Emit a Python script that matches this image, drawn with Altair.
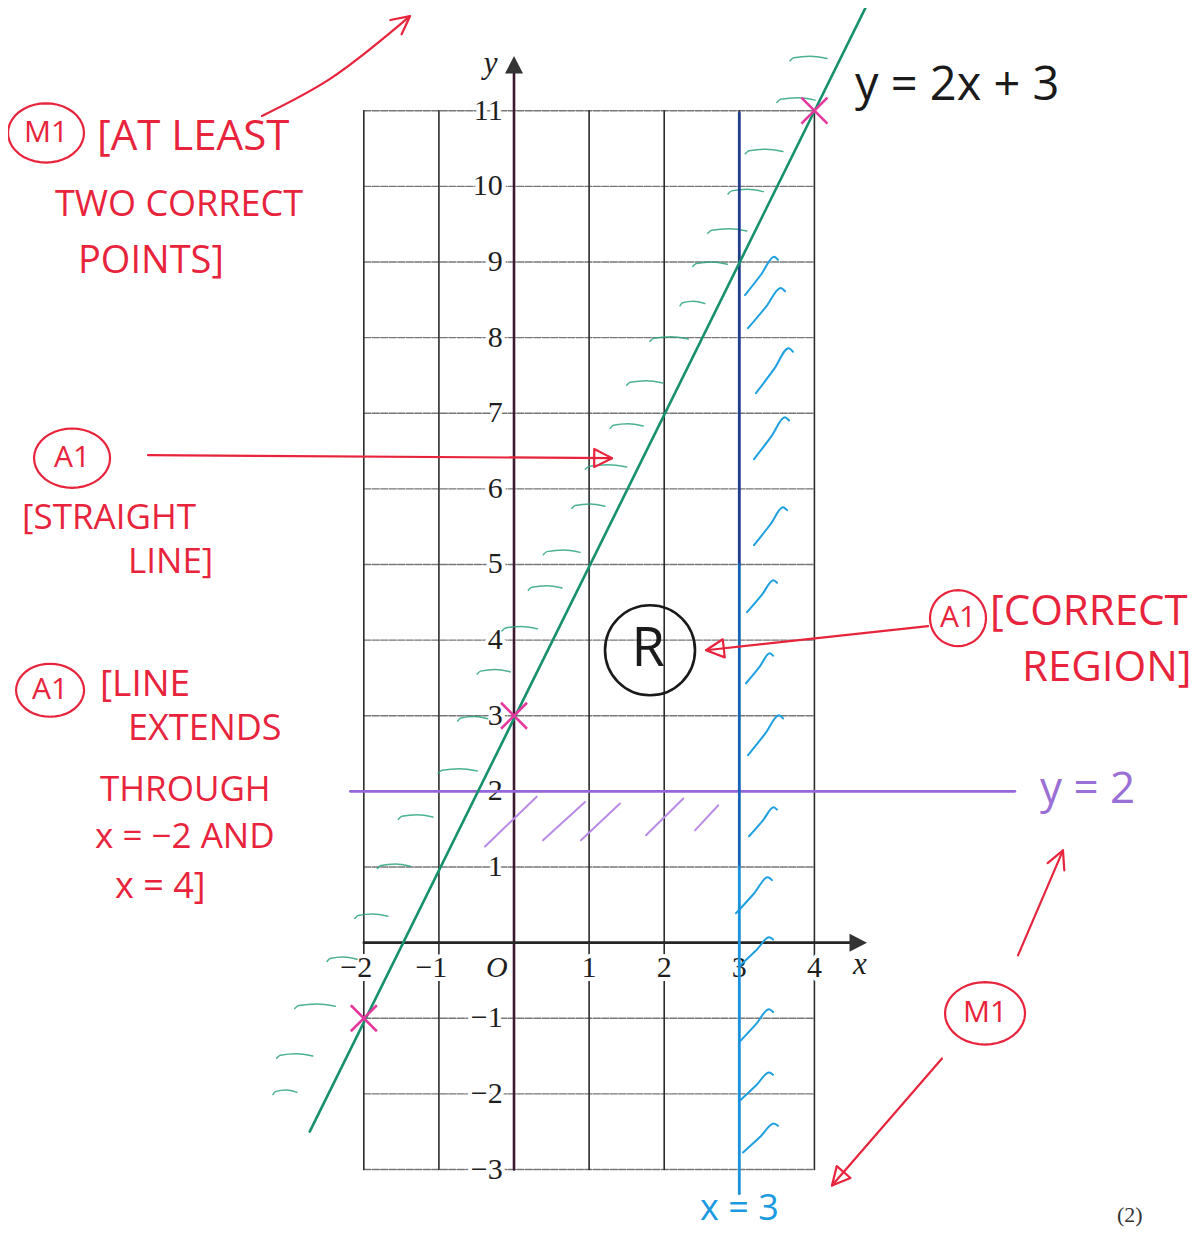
import math
import altair as alt
import numpy as np
import pandas as pd

# ---------------- data (graph units) ----------------
X_DOMAIN = [-6.738, 9.028]
Y_DOMAIN = [-3.813, 12.358]
PX_X = 75.1   # pixels per x unit (used only for arrow-head geometry)
PX_Y = 75.6

grid_x = [-2, -1, 0, 1, 2, 3, 4]
grid_y = [-3, -2, -1, 0, 1, 2, 3, 4, 5, 6, 7, 8, 9, 10, 11]
x_tick_values = [-2, -1, 1, 2, 3, 4]
y_tick_values = [11, 10, 9, 8, 7, 6, 5, 4, 3, 2, 1, -1, -2, -3]

# y = 2x + 3 as drawn
line_x = [-2.72, 4.69]
line_y = [-2.50, 12.38]
# plotted points (crosses)
cross_x = [-2, 0, 4]
cross_y = [-1, 3, 11]
# boundary x = 3
vline_y = [10.97, 5.0, 1.0, -3.32]
vline_colors = ["#1f3d8c", "#1565b8", "#1a92dc"]
# boundary y = 2
hline_x = [-2.18, 6.67]

# green shading strokes (left of y = 2x + 3)
gh_x0 = [3.675, 3.50, 3.08, 2.85, 2.58, 2.38, 2.21, 1.81, 1.50, 1.28, 0.95, 0.77, 0.39,
         0.19, -0.16, -0.49, -0.75, -1.01, -1.54, -1.82, -2.12, -2.49, -2.92, -3.16, -3.21]
gh_x1 = [4.168, 4.01, 3.58, 3.32, 3.10, 2.84, 2.54, 2.32, 1.98, 1.72, 1.50, 1.21, 0.88,
         0.64, 0.31, -0.05, -0.35, -0.49, -1.08, -1.38, -1.68, -2.09, -2.38, -2.68, -2.89]
gh_y = [11.70, 11.15, 10.47, 9.94, 9.42, 8.98, 8.46, 7.99, 7.41, 6.84, 6.30, 5.78, 5.17,
        4.70, 4.16, 3.59, 2.97, 2.28, 1.67, 1.02, 0.36, -0.21, -0.83, -1.49, -1.97]

# blue shading strokes (right of x = 3)
bh_x0 = [3.076, 3.116, 3.222, 3.196, 3.196, 3.103, 3.089, 3.116, 3.129, 2.956, 3.009, 2.996, 3.009, 3.049]
bh_y0 = [8.562, 8.125, 7.265, 6.393, 5.255, 4.369, 3.429, 2.478, 1.406, 0.388, -0.302, -1.319, -2.086, -2.774]
bh_x1 = [3.515, 3.609, 3.715, 3.662, 3.635, 3.502, 3.449, 3.582, 3.502, 3.435, 3.449, 3.449, 3.449, 3.515]
bh_y1 = [9.069, 8.655, 7.860, 6.948, 5.758, 4.792, 3.826, 3.007, 1.790, 0.864, 0.070, -0.882, -1.716, -2.391]

# purple shading strokes (below y = 2)
ph_x0 = [-0.386, 0.386, 0.892, 1.758, 2.41]
ph_y0 = [1.27, 1.353, 1.353, 1.419, 1.485]
ph_x1 = [0.302, 0.945, 1.411, 2.254, 2.72]
ph_y1 = [1.93, 1.86, 1.839, 1.905, 1.816]

# red arrows (polylines, last point = tip)
arrow_top_x = [-3.356, -2.45, -1.385]
arrow_top_y = [10.93, 11.42, 12.25]
arrow_mid_x = [-4.873, 1.305]
arrow_mid_y = [6.446, 6.406]
arrow_region_x = [5.513, 2.557]
arrow_region_y = [4.184, 3.866]
arrow_up_x = [6.711, 7.310]
arrow_up_y = [-0.168, 1.220]
arrow_down_x = [5.699, 4.234]
arrow_down_y = [-1.532, -3.212]

# red mark labels in circles
mark_text = ["M1", "A1", "A1", "A1", "M1"]
mark_x = [-6.232, -5.885, -6.178, 5.912, 6.272]
mark_y = [10.706, 6.406, 3.337, 4.290, -0.935]
mark_w = [76, 76, 68, 56, 80]

# red comments
note_text = ["[AT LEAST", "TWO CORRECT", "POINTS]", "[STRAIGHT", "LINE]", "[LINE", "EXTENDS",
             "THROUGH", "x = −2  AND", "x = 4]", "[CORRECT", "REGION]"]
note_x = [-5.553, -6.112, -5.806, -6.551, -5.14, -5.513, -5.14, -5.513, -5.579, -5.313, 6.338, 6.764]
note_y = [10.652, 9.753, 9.0, 5.62, 5.03, 3.40, 2.83, 2.015, 1.40, 0.74, 4.369, 3.628]
note_size = [42, 36, 38, 35, 35, 37, 36, 35, 35, 36, 42, 42]

# ---------------- helpers ----------------
XS = alt.Scale(domain=X_DOMAIN, nice=False, zero=False)
YS = alt.Scale(domain=Y_DOMAIN, nice=False, zero=False)


def xy():
    return dict(x=alt.X("x:Q", scale=XS, axis=None), y=alt.Y("y:Q", scale=YS, axis=None))


def paths_df(paths):
    rows = []
    for i, pts in enumerate(paths):
        for j, (px, py) in enumerate(pts):
            rows.append({"id": i, "o": j, "x": px, "y": py})
    return pd.DataFrame(rows)


def lines(paths, color, width, dash=None, interp="linear", opacity=1.0):
    kw = dict(color=color, strokeWidth=width, interpolate=interp, strokeCap="round",
              strokeJoin="round", opacity=opacity)
    if dash is not None:
        kw["strokeDash"] = dash
    return alt.Chart(paths_df(paths)).mark_line(**kw).encode(
        detail="id:N", order="o:Q", **xy())


def texts(xs, ys, ts, **mk):
    df = pd.DataFrame({"x": xs, "y": ys, "t": ts})
    return alt.Chart(df).mark_text(**mk).encode(text="t:N", **xy())


def points(xs, ys, **mk):
    df = pd.DataFrame({"x": xs, "y": ys})
    return alt.Chart(df).mark_point(**mk).encode(**xy())


def arrow_head(xs, ys, closed=True, length=20, ang=27):
    qx, qy = xs[-1], ys[-1]
    px_, py_ = xs[-2], ys[-2]
    dx, dy = (qx - px_) * PX_X, (qy - py_) * PX_Y
    n = math.hypot(dx, dy)
    bx, by = -dx / n, -dy / n
    pts = []
    for s in (1, -1):
        a = math.radians(ang) * s
        rx = bx * math.cos(a) - by * math.sin(a)
        ry = bx * math.sin(a) + by * math.cos(a)
        pts.append((qx + rx * length / PX_X, qy + ry * length / PX_Y))
    if closed:
        return [pts[0], (qx, qy), pts[1], pts[0]]
    return [pts[0], (qx, qy), pts[1]]


def ellipse_path(ry):
    t = np.linspace(0, 2 * np.pi, 41)[:-1]
    p = ["%s%.3f,%.3f" % ("M" if i == 0 else "L", math.cos(a), ry * math.sin(a)) for i, a in enumerate(t)]
    return "".join(p) + "Z"


layers = []

# ---------------- grid ----------------
layers.append(lines([[(-2, gy), (4, gy)] for gy in grid_y], "#777777", 1.4, dash=[7, 1.5]))
layers.append(lines([[(gx, -3), (gx, 11)] for gx in grid_x], "#2b2b2b", 1.6))

# ---------------- tick labels with white knock-out ----------------
ylab = ["−%d" % -v if v < 0 else str(v) for v in y_tick_values]
ylx = [-0.15] * len(y_tick_values)
xlab = ["−%d" % -v if v < 0 else str(v) for v in x_tick_values]
xlx = [v - 0.1 if v < 0 else v for v in x_tick_values]
xly = [-0.33] * len(x_tick_values)
serif = "Liberation Serif"
for halo in (True, False):
    extra = dict(color="white", stroke="white", strokeWidth=8, strokeJoin="round") if halo else dict(color="#1e1e1e")
    layers.append(texts(ylx, y_tick_values, ylab, font=serif, fontSize=30, align="right", baseline="middle", **extra))
    layers.append(texts(xlx, xly, xlab, font=serif, fontSize=30, align="center", baseline="middle", **extra))

layers.append(texts([-0.23], [-0.33], ["O"], font=serif, fontSize=30, fontStyle="italic", color="#1e1e1e"))
layers.append(texts([4.607], [-0.30], ["x"], font=serif, fontSize=31, fontStyle="italic", color="#1e1e1e"))
layers.append(texts([-0.31], [11.62], ["y"], font=serif, fontSize=31, fontStyle="italic", color="#1e1e1e"))

# ---------------- axes ----------------
layers.append(lines([[(0, -3), (0, 11.55)]], "#3a1a30", 2.6))
layers.append(lines([[(-2, 0), (4.55, 0)]], "#262626", 2.6))
layers.append(points([0], [11.59], shape="M0,-1L0.9,0.75L-0.9,0.75Z", size=400, filled=True,
                     color="#333333", opacity=1))
layers.append(points([4.567], [0], shape="M1,0L-0.75,-0.9L-0.75,0.9Z", size=400, filled=True,
                     color="#333333", opacity=1))

# ---------------- shading strokes ----------------
gpaths = []
for x0, x1, y in zip(gh_x0, gh_x1, gh_y):
    d = x1 - x0
    gpaths.append([(x0, y - 0.04), (x0 + 0.1 * d, y), (x0 + 0.55 * d, y + 0.02), (x1, y - 0.01)])
layers.append(lines(gpaths, "#2aa37e", 1.5, interp="monotone", opacity=0.85))

bpaths = []
for x0, y0, x1, y1 in zip(bh_x0, bh_y0, bh_x1, bh_y1):
    dx, dy = x1 - x0, y1 - y0
    bpaths.append([(x0, y0), (x0 + 0.5 * dx, y0 + 0.55 * dy), (x1 - 0.12 * dx, y1), (x1, y1 - 0.08 * dy)])
layers.append(lines(bpaths, "#1ea0e0", 2.0, interp="monotone"))

ppaths = [[(a, b), (c, d)] for a, b, c, d in zip(ph_x0, ph_y0, ph_x1, ph_y1)]
layers.append(lines(ppaths, "#b98be6", 2.0))

# ---------------- boundary lines ----------------
layers.append(lines([[(hline_x[0], 2), (hline_x[1], 2)]], "#9466d8", 2.6))
for i, c in enumerate(vline_colors):
    layers.append(lines([[(3, vline_y[i]), (3, vline_y[i + 1])]], c, 2.8))
layers.append(lines([list(zip(line_x, line_y))], "#17906c", 2.6))

# crosses
layers.append(points(cross_x, cross_y, shape="M-1,-1L1,1M1,-1L-1,1", size=676, filled=False,
                     color="#e4389e", strokeWidth=2.6, opacity=1))

# ---------------- black / coloured labels ----------------
hand = "Open Sans"
layers.append(texts([4.54], [11.33], ["y = 2x + 3"], font=hand, fontSize=47, align="left",
                    baseline="middle", color="#1a1a1a"))
layers.append(points([1.811], [3.866], shape="circle", size=8100, filled=False, color="#1a1a1a",
                     strokeWidth=2.6, opacity=1))
layers.append(texts([1.785], [3.866], ["R"], font=hand, fontSize=54, align="center",
                    baseline="middle", color="#1a1a1a"))
layers.append(texts([7.004], [2.017], ["y = 2"], font=hand, fontSize=44, align="left",
                    baseline="middle", color="#9a6fd6"))
layers.append(texts([2.477], [-3.52], ["x = 3"], font=hand, fontSize=36, align="left",
                    baseline="middle", color="#1a9ae0"))
layers.append(texts([8.2], [-3.60], ["(2)"], font=serif, fontSize=22, align="center",
                    baseline="middle", color="#333333"))

# ---------------- red marking ----------------
RED = "#e8243c"
note_df = pd.DataFrame({"x": note_x, "y": note_y, "t": note_text, "s": note_size})
layers.append(alt.Chart(note_df).mark_text(font=hand, align="left", baseline="middle", color=RED).encode(
    text="t:N", size=alt.Size("s:Q", scale=None, legend=None), **xy()))
for w in sorted(set(mark_w)):
    idx = [i for i, v in enumerate(mark_w) if v == w]
    ratio = 1.0 if w < 60 else 0.78
    layers.append(points([mark_x[i] for i in idx], [mark_y[i] for i in idx], shape=ellipse_path(ratio),
                         size=w * w, filled=False, color=RED, strokeWidth=2.2, opacity=1))
layers.append(texts(mark_x, mark_y, mark_text, font=hand, fontSize=30, align="center",
                    baseline="middle", color=RED))

arrows = [(arrow_top_x, arrow_top_y, False), (arrow_mid_x, arrow_mid_y, True),
          (arrow_region_x, arrow_region_y, True), (arrow_up_x, arrow_up_y, False),
          (arrow_down_x, arrow_down_y, True)]
bodies = [list(zip(ax, ay)) for ax, ay, _ in arrows]
heads = [arrow_head(ax, ay, closed=c) for ax, ay, c in arrows]
layers.append(lines(bodies, RED, 2.2, interp="monotone"))
layers.append(lines(heads, RED, 2.2, interp="linear"))

chart = alt.layer(*layers).properties(
    width=1184, height=1223, padding=0,
    autosize=alt.AutoSizeParams(type="none"),
).configure(background="white").configure_view(stroke="transparent")

chart.save("out.html", embed_options={"renderer": "svg", "actions": False})
